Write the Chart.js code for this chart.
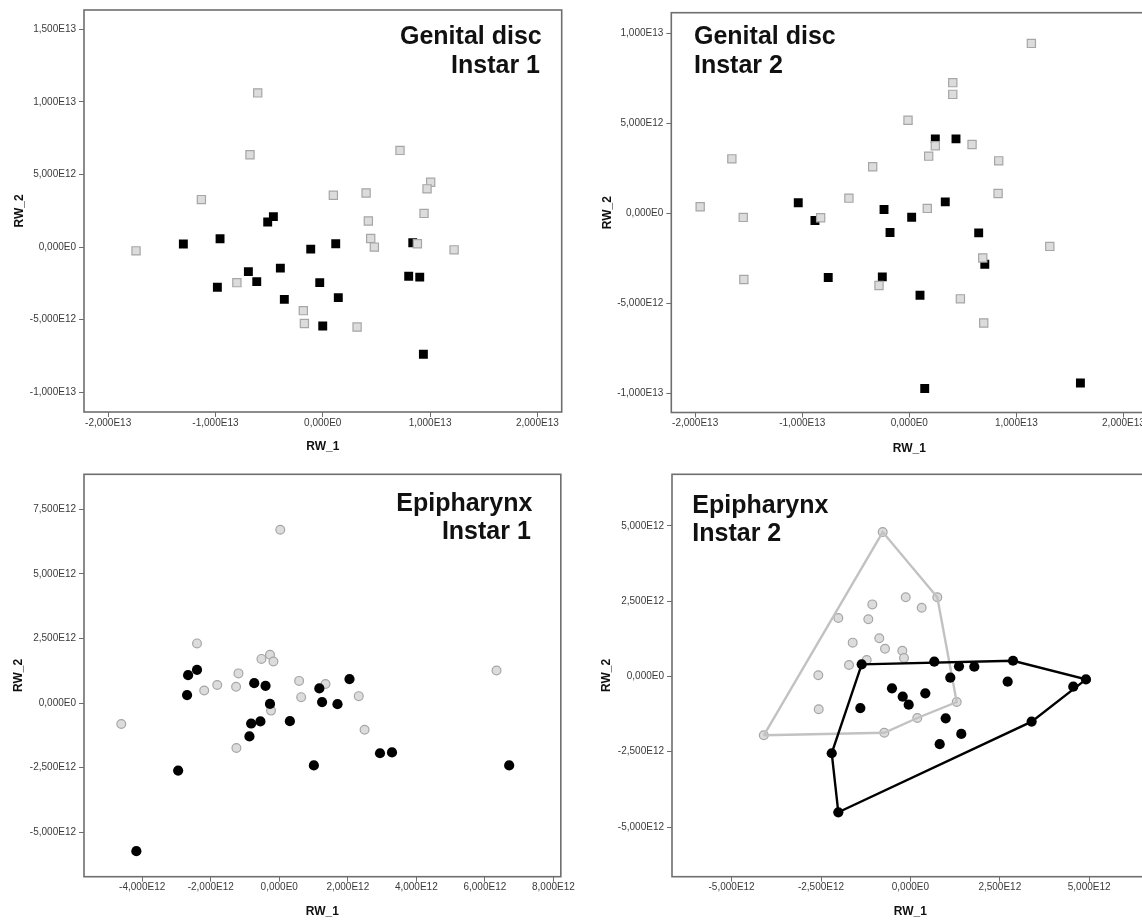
<!DOCTYPE html>
<html><head><meta charset="utf-8">
<script src="https://cdn.jsdelivr.net/npm/chart.js@4.4.1/dist/chart.umd.min.js"></script>
<style>
html,body{margin:0;padding:0;background:#fff;overflow:hidden;width:1142px;height:921px;position:relative;}
canvas{position:absolute;}
</style></head><body>
<canvas id="c1" width="575" height="460" style="left:0;top:0"></canvas>
<canvas id="c2" width="600" height="460" style="left:575px;top:0"></canvas>
<canvas id="c3" width="575" height="461" style="left:0;top:460px"></canvas>
<canvas id="c4" width="600" height="461" style="left:575px;top:460px"></canvas>
<script>
// ---------- DATA ----------
// Genital disc, Instar 1
const gd1Gray = [[-1.740e13,-0.26e12],[-1.131e13,3.27e12],[-0.606e13,10.62e12],[-0.678e13,6.36e12],[-0.800e13,-2.45e12],[0.720e13,6.66e12],[0.099e13,3.57e12],[0.404e13,3.73e12],[1.006e13,4.47e12],[0.972e13,4.01e12],[0.944e13,2.32e12],[0.425e13,1.80e12],[0.447e13,0.59e12],[0.481e13,0.00e12],[0.882e13,0.23e12],[1.224e13,-0.19e12],[-0.181e13,-4.38e12],[-0.171e13,-5.26e12],[0.320e13,-5.51e12]];
const gd1Black = [[-1.299e13,0.21e12],[-0.957e13,0.57e12],[-0.982e13,-2.77e12],[-0.693e13,-1.69e12],[-0.615e13,-2.38e12],[-0.513e13,1.73e12],[-0.460e13,2.10e12],[-0.395e13,-1.45e12],[-0.358e13,-3.60e12],[-0.112e13,-0.14e12],[0.121e13,0.23e12],[-0.028e13,-2.45e12],[0.145e13,-3.48e12],[0.000e13,-5.44e12],[0.839e13,0.30e12],[0.801e13,-2.01e12],[0.904e13,-2.07e12],[0.938e13,-7.38e12]];
// Genital disc, Instar 2
const gd2Gray = [[-1.953e13,0.37e12],[-1.657e13,3.03e12],[-1.551e13,-0.22e12],[-1.545e13,-3.67e12],[-0.828e13,-0.24e12],[-0.564e13,0.85e12],[1.140e13,9.44e12],[0.406e13,7.26e12],[0.406e13,6.61e12],[-0.012e13,5.17e12],[0.586e13,3.83e12],[0.243e13,3.76e12],[0.181e13,3.18e12],[0.835e13,2.92e12],[-0.342e13,2.59e12],[0.829e13,1.11e12],[0.168e13,0.28e12],[1.312e13,-1.83e12],[0.686e13,-2.47e12],[-0.283e13,-4.00e12],[0.477e13,-4.74e12],[0.695e13,-6.08e12]];
const gd2Black = [[-1.037e13,0.59e12],[-0.881e13,-0.39e12],[-0.757e13,-3.56e12],[0.243e13,4.14e12],[0.436e13,4.14e12],[-0.236e13,0.22e12],[0.336e13,0.64e12],[0.022e13,-0.21e12],[-0.180e13,-1.06e12],[0.648e13,-1.08e12],[0.705e13,-2.82e12],[-0.252e13,-3.52e12],[0.100e13,-4.54e12],[0.144e13,-9.72e12],[1.598e13,-9.41e12]];
// Epipharynx, Instar 1
const ep1Gray = [[-4.61e12,-0.81e12],[0.03e12,6.71e12],[-2.40e12,2.31e12],[-0.52e12,1.71e12],[-0.27e12,1.87e12],[-0.17e12,1.61e12],[-1.19e12,1.15e12],[-2.19e12,0.49e12],[-1.81e12,0.70e12],[-1.26e12,0.63e12],[-0.24e12,-0.29e12],[-1.25e12,-1.74e12],[0.58e12,0.86e12],[0.64e12,0.23e12],[1.35e12,0.74e12],[2.32e12,0.27e12],[2.49e12,-1.03e12],[6.34e12,1.26e12]];
const ep1Black = [[-2.66e12,1.08e12],[-2.40e12,1.29e12],[-2.69e12,0.31e12],[-0.73e12,0.77e12],[-0.40e12,0.67e12],[-0.27e12,-0.03e12],[-0.82e12,-0.79e12],[-0.55e12,-0.71e12],[-0.87e12,-1.29e12],[0.31e12,-0.70e12],[-2.95e12,-2.61e12],[-4.17e12,-5.73e12],[1.17e12,0.57e12],[2.05e12,0.93e12],[1.25e12,0.04e12],[1.70e12,-0.04e12],[1.01e12,-2.41e12],[2.94e12,-1.94e12],[3.29e12,-1.91e12],[6.71e12,-2.41e12]];
// Epipharynx, Instar 2
const ep2Gray = [[-4.10e12,-1.955e12],[-2.575e12,0.04e12],[-2.564e12,-1.09e12],[-2.016e12,1.94e12],[-1.614e12,1.12e12],[-1.717e12,0.38e12],[-0.775e12,4.79e12],[0.752e12,2.625e12],[-0.131e12,2.625e12],[0.316e12,2.28e12],[-1.065e12,2.39e12],[-1.177e12,1.895e12],[-0.870e12,1.265e12],[-0.710e12,0.92e12],[-0.226e12,0.853e12],[-0.179e12,0.61e12],[-1.222e12,0.544e12],[1.295e12,-0.85e12],[0.193e12,-1.38e12],[-0.730e12,-1.87e12]];
const ep2Black = [[-1.362e12,0.40e12],[-1.40e12,-1.05e12],[-2.20e12,-2.55e12],[-2.016e12,-4.51e12],[0.668e12,0.49e12],[1.359e12,0.335e12],[1.787e12,0.32e12],[2.87e12,0.52e12],[2.72e12,-0.176e12],[4.91e12,-0.10e12],[4.555e12,-0.34e12],[3.39e12,-1.50e12],[-0.515e12,-0.395e12],[-0.215e12,-0.674e12],[-0.048e12,-0.94e12],[0.417e12,-0.56e12],[1.116e12,-0.043e12],[0.987e12,-1.39e12],[1.423e12,-1.91e12],[0.819e12,-2.25e12]];
const ep2GrayHull = [[-4.10e12,-1.955e12],[-0.775e12,4.79e12],[0.752e12,2.625e12],[1.295e12,-0.85e12],[0.193e12,-1.38e12],[-0.730e12,-1.87e12],[-4.10e12,-1.955e12]];
const ep2BlackHull = [[-1.362e12,0.40e12],[2.87e12,0.52e12],[4.91e12,-0.10e12],[3.39e12,-1.50e12],[-2.016e12,-4.51e12],[-2.20e12,-2.55e12],[-1.362e12,0.40e12]];

// tick values and labels
const gd1XTicks = [-2e13,-1e13,0,1e13,2e13];
const gd1XLabels = ['-2,000E13','-1,000E13','0,000E0','1,000E13','2,000E13'];
const gd1YTicks = [-1e13,-5e12,0,5e12,1e13,1.5e13];
const gd1YLabels = ['-1,000E13','-5,000E12','0,000E0','5,000E12','1,000E13','1,500E13'];
const gd2XTicks = [-2e13,-1e13,0,1e13,2e13];
const gd2XLabels = ['-2,000E13','-1,000E13','0,000E0','1,000E13','2,000E13'];
const gd2YTicks = [-1e13,-5e12,0,5e12,1e13];
const gd2YLabels = ['-1,000E13','-5,000E12','0,000E0','5,000E12','1,000E13'];
const ep1XTicks = [-4e12,-2e12,0,2e12,4e12,6e12,8e12];
const ep1XLabels = ['-4,000E12','-2,000E12','0,000E0','2,000E12','4,000E12','6,000E12','8,000E12'];
const ep1YTicks = [-5e12,-2.5e12,0,2.5e12,5e12,7.5e12];
const ep1YLabels = ['-5,000E12','-2,500E12','0,000E0','2,500E12','5,000E12','7,500E12'];
const ep2XTicks = [-5e12,-2.5e12,0,2.5e12,5e12];
const ep2XLabels = ['-5,000E12','-2,500E12','0,000E0','2,500E12','5,000E12'];
const ep2YTicks = [-5e12,-2.5e12,0,2.5e12,5e12];
const ep2YLabels = ['-5,000E12','-2,500E12','0,000E0','2,500E12','5,000E12'];

// ---------- STYLE ----------
const FF = '"Liberation Sans", Arial, sans-serif';
Chart.defaults.animation = false;
Chart.defaults.font.family = FF;

function pts(a){ return a.map(p => ({x:p[0], y:p[1]})); }

function grayPts(a, style, order){
  return {data:pts(a), pointStyle:style, pointRadius: style==='rect'?5.8:4.4, pointBackgroundColor:'#dcdcdc',
    pointBorderColor:'#a6a6a6', pointBorderWidth:1.2, showLine:false, order:order};
}
function blackPts(a, style, order){
  return {data:pts(a), pointStyle:style, pointRadius: style==='rect'?6.3:5.1, pointBackgroundColor:'#000',
    pointBorderColor:'#000', pointBorderWidth:0, showLine:false, order:order};
}
function hull(a, color, order){
  return {data:pts(a), showLine:true, borderColor:color, borderWidth:2.4, pointRadius:0, fill:false, order:order, tension:0};
}

const framePlugin = {
  id:'frame',
  afterDraw(chart){
    const ca = chart.chartArea, ctx = chart.ctx, o = chart.options.plugins.frame;
    ctx.save();
    ctx.strokeStyle = '#6e6e6e'; ctx.lineWidth = 1.6;
    ctx.strokeRect(ca.left, ca.top, ca.right-ca.left, ca.bottom-ca.top);
    ctx.fillStyle = '#111';
    ctx.font = 'bold 25px ' + FF;
    ctx.textAlign = o.align;
    ctx.textBaseline = 'alphabetic';
    const x = o.align==='right' ? ca.right - o.dx : ca.left + o.dx;
    o.lines.forEach((t,i)=> ctx.fillText(t, o.align==='right' ? x - (o.shift[i]||0) : x, ca.top + o.base[i]));
    ctx.restore();
  }
};

function make(id, c){
  const tickFont = {family:FF, size:10};
  new Chart(document.getElementById(id), {
    type:'scatter',
    data:{datasets:c.datasets},
    options:{
      responsive:false, animation:false,
      layout:{padding:c.pad},
      plugins:{legend:{display:false}, tooltip:{enabled:false},
        frame:{lines:c.lines, align:c.align, dx:c.dx, base:c.base, shift:c.shift||[]}},
      scales:{
        x:{type:'linear', min:c.xMin, max:c.xMax, bounds:'data',
          afterBuildTicks:s=>{s.ticks = c.xTicks.map(v=>({value:v}));},
          afterFit:s=>{s.height = c.xh;},
          ticks:{autoSkip:false, maxRotation:0, minRotation:0, padding:0, color:'#3a3a3a', font:tickFont,
            callback:(v,i)=>c.xLabels[i]},
          grid:{display:true, drawOnChartArea:false, drawTicks:true, tickLength:5, color:'#6e6e6e', lineWidth:1},
          border:{display:false},
          title:{display:true, text:'RW_1', color:'#111', font:{family:FF, size:12, weight:'bold'}, padding:{top:0, bottom:c.xtp}}
        },
        y:{type:'linear', min:c.yMin, max:c.yMax, bounds:'data',
          afterBuildTicks:s=>{s.ticks = c.yTicks.map(v=>({value:v}));},
          afterFit:s=>{s.width = c.yw;},
          ticks:{autoSkip:false, padding:3, color:'#3a3a3a', font:tickFont,
            callback:(v,i)=>c.yLabels[i]},
          grid:{display:true, drawOnChartArea:false, drawTicks:true, tickLength:5, color:'#6e6e6e', lineWidth:1},
          border:{display:false},
          title:{display:true, text:'RW_2', color:'#111', font:{family:FF, size:12, weight:'bold'}, padding:{top:c.ytp, bottom:0}}
        }
      }
    },
    plugins:[framePlugin]
  });
}

make('c1', {
  datasets:[grayPts(gd1Gray,'rect',0), blackPts(gd1Black,'rect',1)],
  xMin:-2.225e13, xMax:2.227e13, yMin:-1.136e13, yMax:1.633e13,
  xTicks:gd1XTicks, xLabels:gd1XLabels, yTicks:gd1YTicks, yLabels:gd1YLabels,
  pad:{left:0, top:10, right:13.3, bottom:0}, yw:84, xh:48, xtp:6.1, ytp:12,
  lines:['Genital disc','Instar 1'], align:'right', dx:20, base:[34.3,62.7], shift:[0,1.7]
});
make('c2', {
  datasets:[grayPts(gd2Gray,'rect',0), blackPts(gd2Black,'rect',1)],
  xMin:-2.2226e13, xMax:2.2226e13, yMin:-1.105e13, yMax:1.1144e13,
  xTicks:gd2XTicks, xLabels:gd2XLabels, yTicks:gd2YTicks, yLabels:gd2YLabels,
  pad:{left:0, top:12.7, right:27.7, bottom:0}, yw:96.3, xh:47.5, xtp:4.5, ytp:25.3,
  lines:['Genital disc','Instar 2'], align:'left', dx:22.7, base:[31.6,60]
});
make('c3', {
  datasets:[blackPts(ep1Black,'circle',0), grayPts(ep1Gray,'circle',1)],
  xMin:-5.698e12, xMax:8.217e12, yMin:-6.718e12, yMax:8.855e12,
  xTicks:ep1XTicks, xLabels:ep1XLabels, yTicks:ep1YTicks, yLabels:ep1YLabels,
  pad:{left:0, top:14.3, right:13.3, bottom:0}, yw:84, xh:44.3, xtp:2.1, ytp:11.1,
  lines:['Epipharynx','Instar 1'], align:'right', dx:28.4, base:[36.7,65], shift:[0,1.6]
});
make('c4', {
  datasets:[hull(ep2BlackHull,'#000',0), blackPts(ep2Black,'circle',1), hull(ep2GrayHull,'#c2c2c2',2), grayPts(ep2Gray,'circle',3)],
  xMin:-6.667e12, xMax:6.667e12, yMin:-6.648e12, yMax:6.708e12,
  xTicks:ep2XTicks, xLabels:ep2XLabels, yTicks:ep2YTicks, yLabels:ep2YLabels,
  pad:{left:0, top:14.3, right:26.2, bottom:0}, yw:97, xh:44.3, xtp:2.1, ytp:24.5,
  lines:['Epipharynx','Instar 2'], align:'left', dx:20.3, base:[39,66.7]
});
</script>
</body></html>
